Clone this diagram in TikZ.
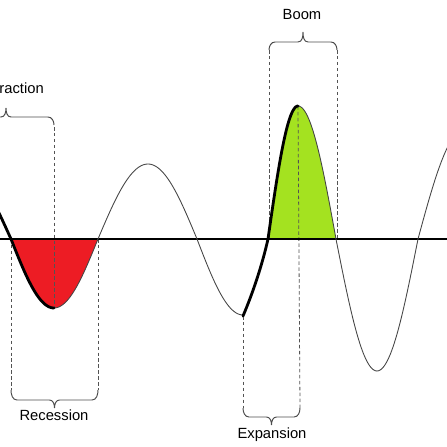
\documentclass[tikz,border=0pt]{standalone}
\usepackage{fontspec}
\setmainfont{Liberation Sans}
\definecolor{recred}{RGB}{237,28,36}
\definecolor{boomgreen}{RGB}{164,226,32}
\tikzset{
  wave/.style={gray!55!black,line width=0.5pt},
  phase/.style={black,line width=1.6pt,line cap=round},
  guide/.style={gray!65!black,line width=0.45pt,dash pattern=on 2pt off 1.4pt},
  bracket/.style={gray!60!black,line width=0.55pt},
  lab/.style={font=\fontsize{8.4}{10}\selectfont}
}
\begin{document}
\begin{tikzpicture}[x=0.02cm,y=-0.02cm]
\useasboundingbox (0,0) rectangle (447,447);
\clip (0,0) rectangle (447,447);
% turning points of the cycle
\coordinate (r1) at (54,308);
\coordinate (p1) at (148,164);
\coordinate (r2) at (243,316);
\coordinate (p2) at (298,106);
\coordinate (r3) at (377,371);
% shaded phases
\fill[recred] (11,239) -- plot[domain=0:90,samples=30] ({11+43*\x/90},{239+69*sin(\x)})
  -- plot[domain=0:90,samples=30] ({54+44*\x/90},{239+69*cos(\x)}) -- cycle;
\fill[boomgreen] (268,239) -- plot[domain=0:90,samples=30] ({268+30*\x/90},{239-133*sin(\x)})
  -- plot[domain=0:90,samples=30] ({298+38*\x/90},{239-133*cos(\x)}) -- cycle;
% guide lines
\coordinate (g1a) at (11,239);  \coordinate (g1b) at (11,390);
\coordinate (g2a) at (98,239);  \coordinate (g2b) at (98,390);
\coordinate (g3a) at (54,127);
\coordinate (g4b) at (243,408);
\coordinate (g5b) at (300,408);
\coordinate (g6a) at (269,50);  \coordinate (g6b) at (269,239);
\coordinate (g7a) at (337,50);  \coordinate (g7b) at (337,239);
\draw[guide] (g1a) -- (g1b);
\draw[guide] (g2a) -- (g2b);
\draw[guide] (g3a) -- (r1);
\draw[guide] (r2) -- (g4b);
\draw[guide] (p2) -- (g5b);
\draw[guide] (g6a) -- (g6b);
\draw[guide] (g7a) -- (g7b);
% axis
\draw[black,line width=0.9pt] (0,239) -- (447,239);
% the cycle
\draw[wave] plot[domain=0:90,samples=30] ({54+44*\x/90},{239+69*cos(\x)})
  -- plot[domain=0:90,samples=30] ({98+50*\x/90},{239-75*sin(\x)})
  -- plot[domain=0:90,samples=30] ({148+49*\x/90},{239-75*cos(\x)})
  -- plot[domain=0:90,samples=30] ({197+46*\x/90},{239+76*sin(\x)});
\draw[wave] plot[domain=0:90,samples=30] ({298+38*\x/90},{239-133*cos(\x)})
  -- plot[domain=0:90,samples=30] ({336+41*\x/90},{239+132*sin(\x)})
  -- plot[domain=0:90,samples=30] ({377+41*\x/90},{239+132*cos(\x)})
  -- plot[domain=0:90,samples=30] ({418+47*\x/90},{239-110*sin(\x)});
\draw[phase] plot[domain=60:90,samples=15] ({-40+51*\x/90},{239-72*cos(\x)})
  -- plot[domain=0:90,samples=30] ({11+43*\x/90},{239+69*sin(\x)});
\draw[phase] (r2) .. controls (252,295) and (262,266) .. (268,239)
  -- plot[domain=0:90,samples=30] ({268+30*\x/90},{239-133*sin(\x)});
% braces over the phases (tip up)
\foreach \a/\b/\e/\h/\t [evaluate=\b as \m using (\a+\b)/2] in {-42/54/125/117/108, 269/337/50/42/32} {
  \draw[bracket] (\a,\e) to[out=90,in=180] (\a+6,\h) -- (\m-5,\h)
    to[out=0,in=-90] (\m,\t) to[out=-90,in=180] (\m+5,\h)
    -- (\b-6,\h) to[out=0,in=90] (\b,\e);
}
% braces under the phases (tip down)
\foreach \a/\b/\e/\h/\t [evaluate=\b as \m using (\a+\b)/2] in {11/98/390/400/408, 243/300/408/417/425} {
  \draw[bracket] (\a,\e) to[out=-90,in=180] (\a+6,\h) -- (\m-5,\h)
    to[out=0,in=90] (\m,\t) to[out=90,in=180] (\m+5,\h)
    -- (\b-6,\h) to[out=0,in=-90] (\b,\e);
}
% labels
\node[lab] (contraction) at (6,88) {Contraction};
\node[lab] (boom) at (302,14) {Boom};
\node[lab] (recession) at (54,415) {Recession};
\node[lab] (expansion) at (272,435) {Expansion};
\end{tikzpicture}
\end{document}
